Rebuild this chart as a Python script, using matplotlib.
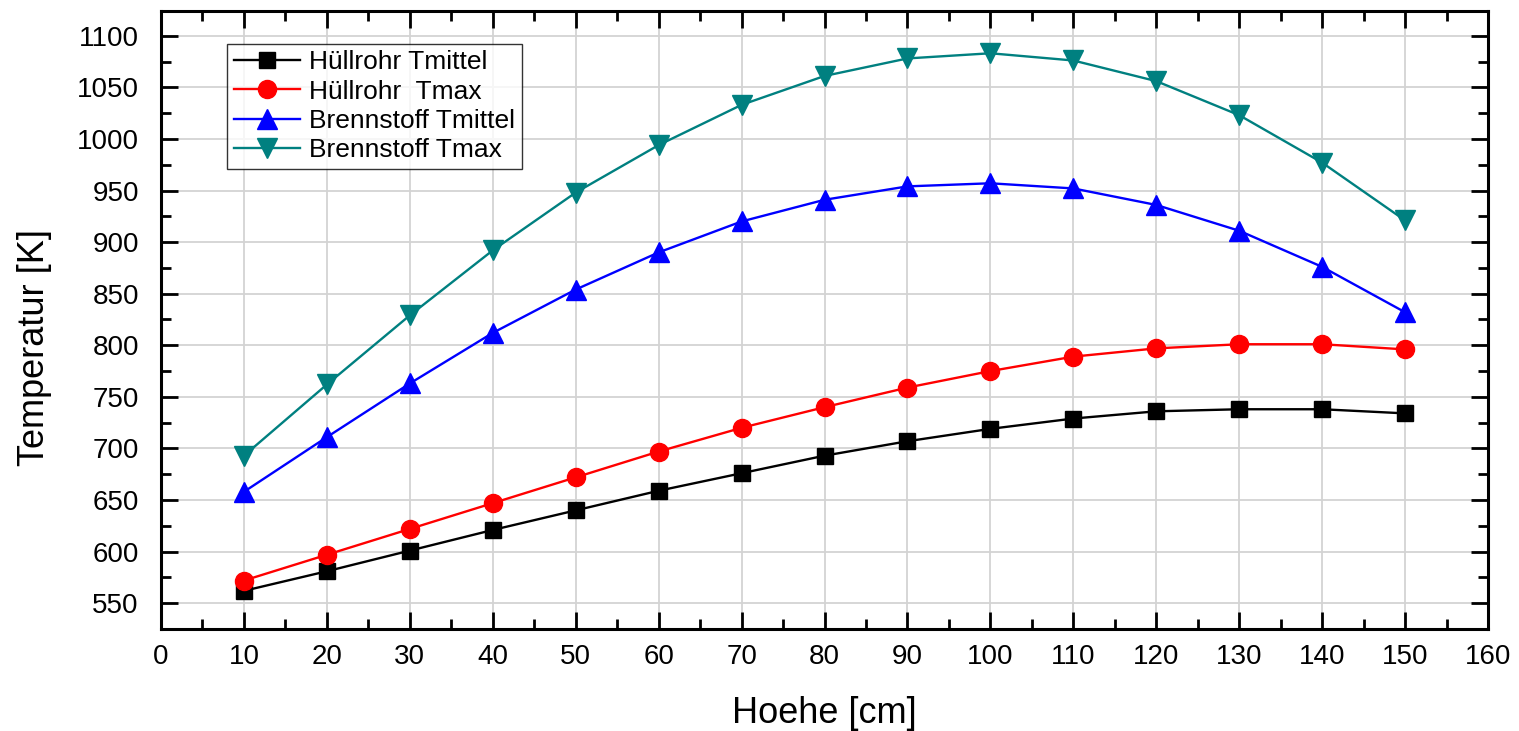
import matplotlib
matplotlib.use("Agg")
import matplotlib.pyplot as plt
from matplotlib.ticker import MultipleLocator

plt.rcParams['font.family'] = ['Liberation Sans', 'DejaVu Sans']

hoehe = [10, 20, 30, 40, 50, 60, 70, 80, 90, 100, 110, 120, 130, 140, 150]
huell_tmittel = [562, 581, 601, 621, 640, 659, 676, 693, 707, 719, 729, 736, 738, 738, 734]
huell_tmax = [572, 597, 622, 647, 672, 697, 720, 740, 759, 775, 789, 797, 801, 801, 796]
brenn_tmittel = [658, 711, 763, 812, 854, 890, 920, 941, 954, 957, 952, 936, 911, 876, 832]
brenn_tmax = [693, 762, 829, 892, 948, 994, 1033, 1061, 1078, 1083, 1076, 1056, 1023, 977, 921]

labels = ["Hüllrohr Tmittel", "Hüllrohr  Tmax", "Brennstoff Tmittel", "Brennstoff Tmax"]
colors = ["#000000", "#ff0000", "#0000ff", "#008080"]
markers = ["s", "o", "^", "v"]
sizes = [12, 13, 14, 14]

fig = plt.figure(figsize=(15.19, 7.31), dpi=100)
ax = fig.add_axes([0.106, 0.1395, 0.8736, 0.8455])

for ys, lab, c, m, ms in zip([huell_tmittel, huell_tmax, brenn_tmittel, brenn_tmax],
                             labels, colors, markers, sizes):
    ax.plot(hoehe, ys, color=c, marker=m, markersize=ms, linewidth=1.7,
            label=lab, zorder=3)

ax.set_xlim(0, 160)
ax.set_ylim(525, 1124)
ax.xaxis.set_major_locator(MultipleLocator(10))
ax.xaxis.set_minor_locator(MultipleLocator(5))
ax.yaxis.set_major_locator(MultipleLocator(50))
ax.yaxis.set_minor_locator(MultipleLocator(25))
ax.set_yticks(range(550, 1101, 50))

ax.grid(True, which='major', color='#d3d3d3', linewidth=1.3)
ax.set_axisbelow(True)

ax.tick_params(which='both', direction='in', top=True, right=True, width=2,
               labelsize=20)
ax.tick_params(which='major', length=12)
ax.tick_params(which='minor', length=7)
ax.tick_params(axis='x', pad=11)
ax.tick_params(axis='y', pad=16)
ax.tick_params(labeltop=False, labelright=False)
for s in ax.spines.values():
    s.set_linewidth(2.2)

ax.set_xlabel("Hoehe [cm]", fontsize=26)
ax.set_ylabel("Temperatur [K]", fontsize=26)
ax.xaxis.set_label_coords(0.5, -0.136)
ax.yaxis.set_label_coords(-0.0957, 0.456)
ax.xaxis.label.set_va('center')
ax.yaxis.label.set_va('center')

leg = ax.legend(loc='upper left', bbox_to_anchor=(0.05, 0.947), fontsize=19,
                frameon=True, fancybox=False, edgecolor='black',
                handlelength=2.5, labelspacing=0.2, borderpad=0.25,
                handletextpad=0.35, borderaxespad=0)
leg.get_frame().set_linewidth(1.0)

fig.savefig("out.png", dpi=100)
